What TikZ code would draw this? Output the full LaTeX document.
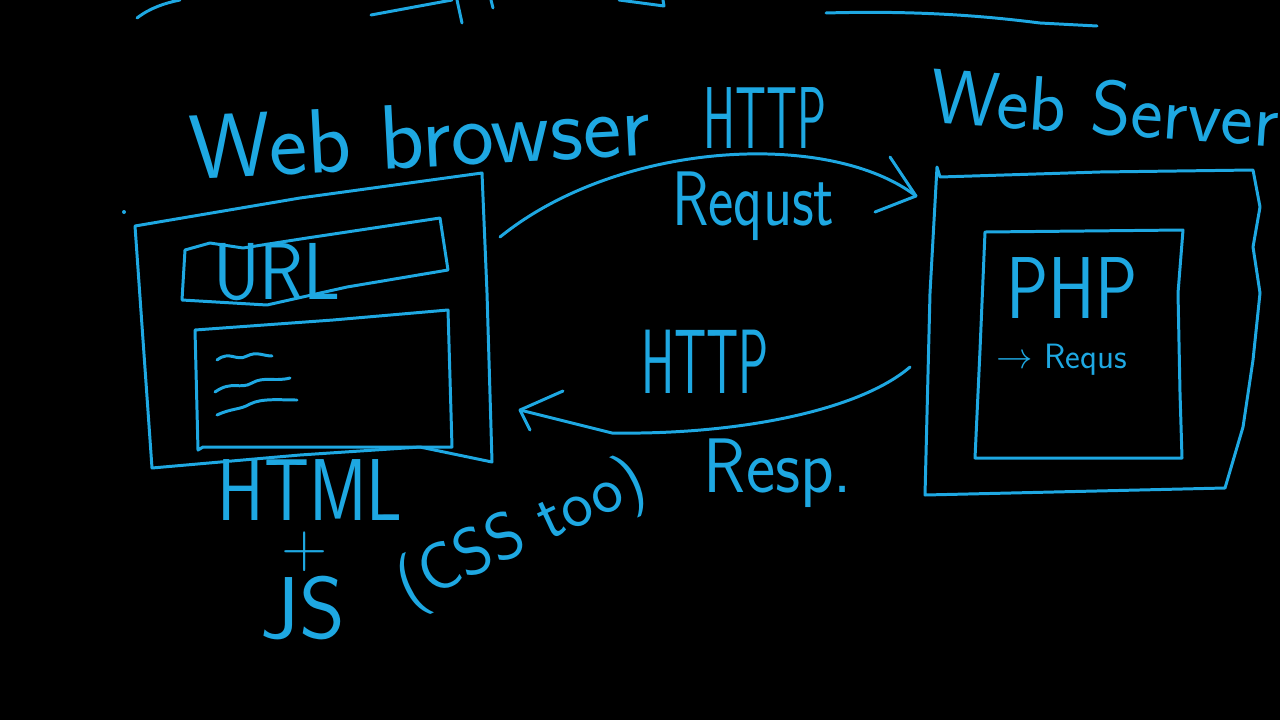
\documentclass[tikz,border=0pt]{standalone}
\usetikzlibrary{positioning}
\definecolor{ink}{RGB}{30,168,226}

\begin{document}
\begin{tikzpicture}[x=0.02cm, y=-0.02cm, line width=1.7pt, line cap=round, line join=round,
    pen/.style={draw=ink},
    hand/.style={text=ink, inner sep=0pt, transform shape, font=\sffamily\fontsize{#1}{#1}\selectfont}]
    \fill[black] (0,0) rectangle (1280,720);
    \useasboundingbox (0,0) rectangle (1280,720);
    \draw[pen] (137,18) .. controls (150,8) and (165,3) .. (180,0);
    \draw[pen] (371,15) -- (452,0);
    \draw[pen] (457,0) -- (462,23);
    \draw[pen] (491,0) -- (493,8);
    \draw[pen] (619,0) -- (664,6) -- (663,0);
    \draw[pen] (826,13) .. controls (930,10) and (1000,18) .. (1040,23) -- (1097,26);
    \node[hand=52, rotate=3] (browsertitle) at (420,136) {Web browser};
    \node[hand=50, xscale=0.55] (httptop) at (765,118) {HTTP};
    \node[hand=44, xscale=0.78, below=4mm of httptop, xshift=-3mm] (reqlabel) {Requst};
    \node[hand=44, rotate=-4] (servertitle) at (1105,108) {Web Server};
    \fill[ink] (124,212) circle (2);
    \draw[pen] (135,226) -- (300,198) -- (482,173) -- (487,293) -- (492,462) -- (420,447) -- (300,455) -- (152,468) -- cycle;
    \draw[pen] (185,250) -- (210,243) -- (243,248) -- (307,238) -- (440,218) -- (448,270) -- (347,287) -- (267,305) -- (182,300) -- cycle;
    \node[hand=46, xscale=0.9] (urllabel) at (277,272) {URL};
    \draw[pen] (195,330) -- (333,320) -- (448,310) -- (452,447) -- (203,447) -- (198,450) -- cycle;
    \draw[pen] (217,360) .. controls (230,350) and (236,362) .. (247,356) .. controls (257,351) and (263,356) .. (272,356);
    \draw[pen] (215,392) .. controls (232,380) and (240,390) .. (252,383) .. controls (264,376) and (275,382) .. (290,378);
    \draw[pen] (217,415) .. controls (232,408) and (240,410) .. (250,404) .. controls (262,398) and (280,400) .. (297,400);
    \node[hand=50, xscale=0.8] (htmllabel) at (310,490) {HTML};
    \node[hand=36] (pluslabel) at (305,552) {+};
    \node[hand=50] (jslabel) at (303,608) {JS};
    \node[hand=38, rotate=25] (csslabel) at (522,535) {(CSS too)};
    \draw[pen] (937,167) -- (940,177) -- (1100,172) -- (1253,170) -- (1260,207) -- (1253,247) -- (1260,293) -- (1253,360) -- (1243,427) -- (1225,488) -- (925,495) -- (930,293) -- cycle;
    \draw[pen] (985,232) -- (1183,230) -- (1178,293) -- (1180,393) -- (1182,458) -- (975,458) -- (980,350) -- cycle;
    \node[hand=50, xscale=0.8] (phplabel) at (1072,288) {PHP};
    \node[hand=20] (reqsmall) at (1062,360) {$\to$ Requs};
    \coordinate (reqfrom) at (500,237);
    \coordinate (reqto) at (916,196);
    \coordinate (respfrom) at (910,367);
    \coordinate (respto) at (520,410);
    \draw[pen] (reqfrom) .. controls (620,140) and (830,130) .. (reqto);
    \draw[pen] (reqto) -- ++(-26,-39) (reqto) -- ++(-41,16);
    \draw[pen] (respfrom) .. controls (860,410) and (740,435) .. (612,433) -- (respto);
    \draw[pen] (respto) -- ++(43,-19) (respto) -- ++(10,20);
    \node[hand=52, xscale=0.55] (httpmid) at (705,362) {HTTP};
    \node[hand=44, xscale=0.9] (resplabel) at (778,473) {Resp.};
\end{tikzpicture}
\end{document}
